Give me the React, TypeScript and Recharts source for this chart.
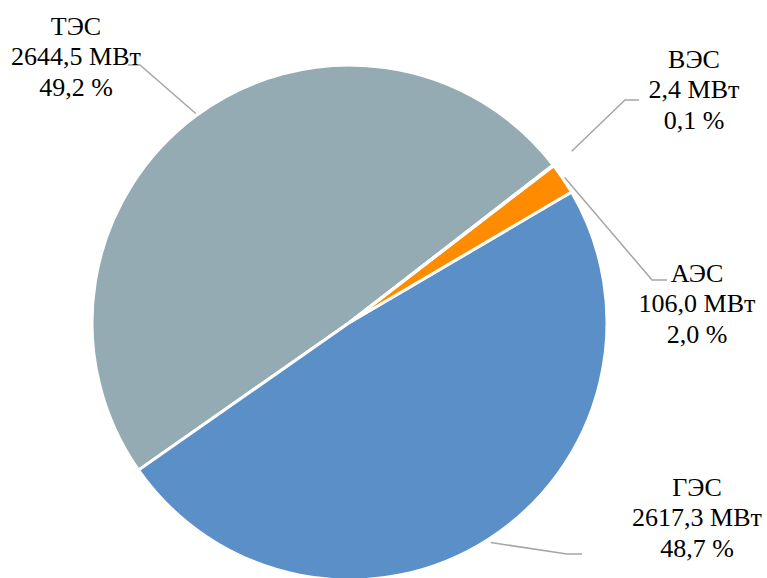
import { PieChart, Pie, Cell } from 'recharts';

const stations = ['ТЭС', 'ГЭС', 'АЭС', 'ВЭС'];
const capacityMW = [2644.5, 2617.3, 106.0, 2.4];
const sharePct = [49.2, 48.7, 2.0, 0.1];
const colors = ['#94ABB4', '#5B8FC7', '#FF8C00', '#7F9FB0'];

const data = stations.map((name, i) => ({ name, value: capacityMW[i], share: sharePct[i] }));

// where each label sits and how its leader line bends
const labelLayout: Record<string, { gap: number; elbow: [number, number]; end: [number, number]; tx: number; ty: number }> = {
  'ТЭС': { gap: 2, elbow: [140, 65], end: [128, 65], tx: 76, ty: 35 },
  'ГЭС': { gap: 4, elbow: [567, 554], end: [582, 554], tx: 697, ty: 496 },
  'АЭС': { gap: 2, elbow: [652, 280], end: [667, 280], tx: 697, ty: 282 },
  'ВЭС': { gap: 23, elbow: [625, 100], end: [639, 100], tx: 694, ty: 68 },
};

const fmt = (v: number) => v.toFixed(1).replace('.', ',');

const RAD = Math.PI / 180;

const renderLine = (props: any) => {
  const { cx, cy, midAngle, outerRadius, name } = props;
  const lay = labelLayout[name];
  if (!lay) return <g />;
  const r = outerRadius + lay.gap;
  const sx = cx + r * Math.cos(-midAngle * RAD);
  const sy = cy + r * Math.sin(-midAngle * RAD);
  return (
    <polyline
      points={`${sx},${sy} ${lay.elbow[0]},${lay.elbow[1]} ${lay.end[0]},${lay.end[1]}`}
      fill="none"
      stroke="#A6A6A6"
      strokeWidth={1.5}
    />
  );
};

const renderLabel = (props: any) => {
  const { name, payload } = props;
  const lay = labelLayout[name];
  if (!lay) return <g />;
  const share = payload?.share ?? props.share;
  const lines = [name, `${fmt(props.value)} МВт`, `${fmt(share)} %`];
  return (
    <g>
      {lines.map((t, i) => (
        <text
          key={i}
          x={lay.tx}
          y={lay.ty + i * 30.3}
          fontSize={26}
          fontFamily="Times New Roman"
          fill="#000"
          textAnchor="middle"
        >
          {t}
        </text>
      ))}
    </g>
  );
};

export default function App() {
  return (
    <div style={{ position: 'absolute', left: 0, top: 0 }}>
      <PieChart width={767} height={578} margin={{ top: 0, right: 0, bottom: 0, left: 0 }}>
        <Pie
          data={data}
          dataKey="value"
          nameKey="name"
          cx={349.5}
          cy={322.5}
          outerRadius={257.5}
          startAngle={37.7}
          endAngle={397.7}
          stroke="#fff"
          strokeWidth={3}
          label={renderLabel}
          labelLine={renderLine}
          isAnimationActive={false}
        >
          {data.map((d, i) => (
            <Cell key={d.name} fill={colors[i]} />
          ))}
        </Pie>
      </PieChart>
    </div>
  );
}
